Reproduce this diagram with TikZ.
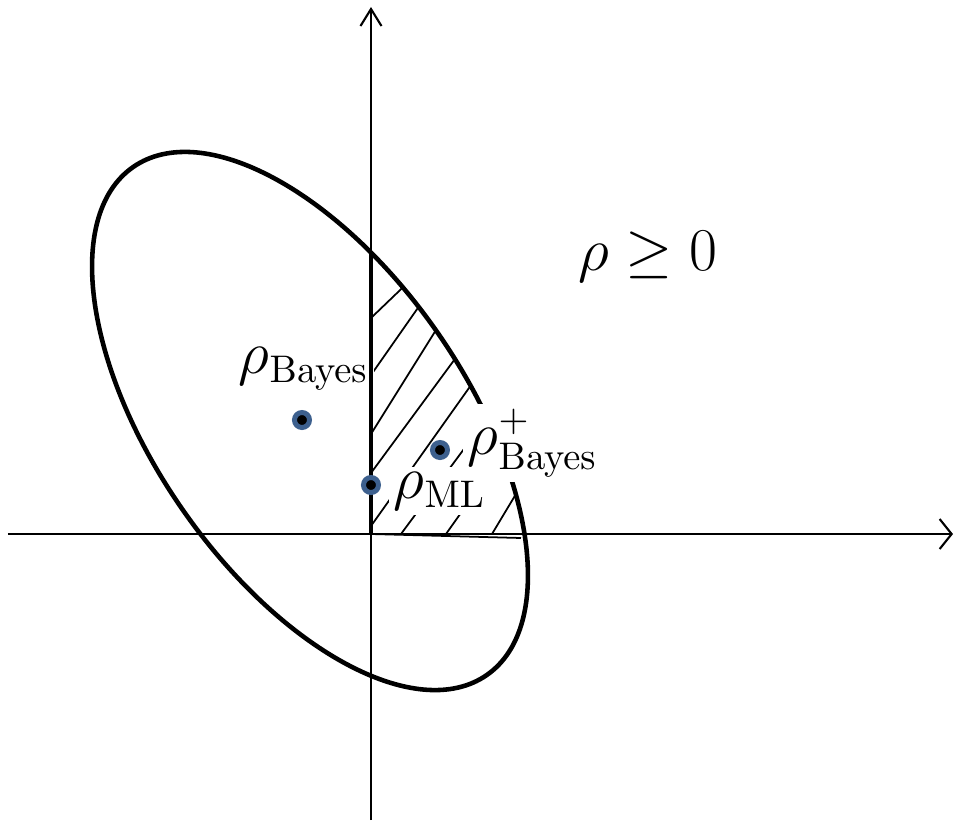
\documentclass[tikz,border=0pt]{standalone}
\usetikzlibrary{arrows.meta}
\definecolor{dotblue}{RGB}{61,96,142}
\begin{document}
\begin{tikzpicture}[
  lbl/.style={font=\fontsize{16}{19}\selectfont, inner sep=1.5pt},
  lblw/.style={lbl, fill=white},
  axis/.style={line width=0.6pt},
  hatch/.style={line width=0.5pt},
  outline/.style={line width=1.3pt},
  pt/.style={circle, draw=dotblue, fill=black, line width=0.05cm, minimum size=0.15cm, inner sep=0pt},
]
\useasboundingbox (-3.71,-2.88) rectangle (5.84,5.34);
% hatching
\begin{scope}
  \clip[shift={(-0.61,1.13)}, rotate=-55.15] (0,0) ellipse (3.095 and 1.552);
  \clip (0,0) -- (1.6,-0.043) -- (1.6,3.2) -- (0,3.2) -- cycle;
  \draw[hatch] (0,2.16) -- (1.0,3.12);
  \draw[hatch] (0,1.59) -- (1.0,3.02);
  \draw[hatch] (0,1.00) -- (1.0,2.60);
  \draw[hatch] (0,0.61) -- (1.2,2.24);
  \draw[hatch] (0,0.08) -- (1.2,1.77);
  \draw[hatch] (0.30,0) -- (1.3,1.35);
  \draw[hatch] (0.75,0) -- (1.6,1.20);
  \draw[hatch] (1.21,0) -- (1.6,0.65);
\end{scope}
% ellipse
\draw[outline, shift={(-0.61,1.13)}, rotate=-55.15] (0,0) ellipse (3.095 and 1.552);
% labels
\node[lblw, anchor=base west] (lbayes) at (-1.38,1.61) {$\rho_{\mathrm{Bayes}}$};
\node[lblw, anchor=base west] (lbayesp) at (0.91,0.80) {$\rho^{+}_{\mathrm{Bayes}}$};
\node[lblw, anchor=base west] (lml) at (0.17,0.36) {$\rho_{\mathrm{ML}}$};
\node[lbl, anchor=base] (lpos) at (2.77,2.64) {$\rho \geq 0$};
% axes
\coordinate (xs) at (-3.63,0);
\coordinate (xe) at (5.82,0);
\coordinate (ys) at (0,-2.86);
\coordinate (ye) at (0,5.27);
\draw[axis, -{Straight Barb[length=0.12cm, width=0.30cm]}] (xs) -- (xe);
\draw[axis, -{Straight Barb[length=0.17cm, width=0.21cm]}] (ys) -- (ye);
% region boundary
\coordinate (o) at (0,0);
\coordinate (top) at (0,2.81);
\coordinate (br) at (1.50,-0.04);
\draw[outline] (o) -- (top);
\draw[hatch] (o) -- (br);
% points
\node[pt] (pbayes) at (-0.69,1.14) {};
\node[pt] (pbayesp) at (0.69,0.84) {};
\node[pt] (pml) at (0,0.49) {};
\end{tikzpicture}
\end{document}
